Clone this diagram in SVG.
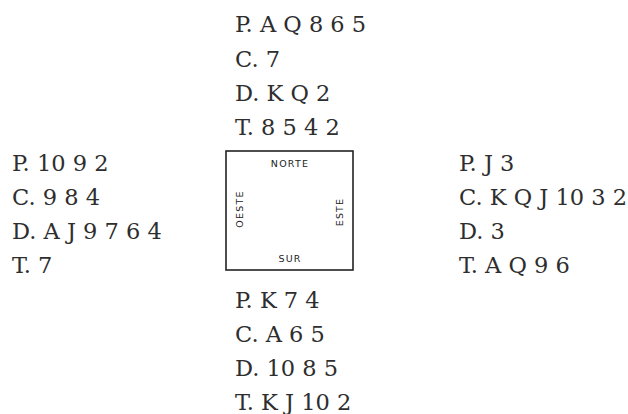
<svg xmlns="http://www.w3.org/2000/svg" width="628" height="414" viewBox="0 0 628 414">
<style>
.h{font-family:"DejaVu Serif","Liberation Serif",serif;font-size:22.5px;fill:#2e2e2e;}
.l{font-family:"DejaVu Sans","Liberation Sans",sans-serif;font-size:9.5px;fill:#222;letter-spacing:1.2px;text-anchor:middle;}
</style>
<rect width="628" height="414" fill="#fff"/>
<g id="north">
<text class="h" x="235" y="32">P. A Q 8 6 5</text>
<text class="h" x="235" y="66.5">C. 7</text>
<text class="h" x="235" y="101">D. K Q 2</text>
<text class="h" x="235" y="135">T. 8 5 4 2</text>
</g>
<g id="west">
<text class="h" x="12" y="171">P. 10 9 2</text>
<text class="h" x="12" y="205">C. 9 8 4</text>
<text class="h" x="12" y="239">D. A J 9 7 6 4</text>
<text class="h" x="12" y="273">T. 7</text>
</g>
<g id="east">
<text class="h" x="459" y="171">P. J 3</text>
<text class="h" x="459" y="205">C. K Q J 10 3 2</text>
<text class="h" x="459" y="239">D. 3</text>
<text class="h" x="459" y="273">T. A Q 9 6</text>
</g>
<g id="table">
<rect x="226" y="151" width="127" height="119" fill="none" stroke="#222" stroke-width="1.6"/>
<text class="l" x="290" y="167">NORTE</text>
<text class="l" x="290" y="262">SUR</text>
<text class="l" transform="translate(243,209) rotate(-90)">OESTE</text>
<text class="l" transform="translate(343,212) rotate(-90)">ESTE</text>
</g>
<g id="south">
<text class="h" x="235" y="308">P. K 7 4</text>
<text class="h" x="235" y="342">C. A 6 5</text>
<text class="h" x="235" y="376">D. 10 8 5</text>
<text class="h" x="235" y="410">T. K J 10 2</text>
</g>
</svg>
